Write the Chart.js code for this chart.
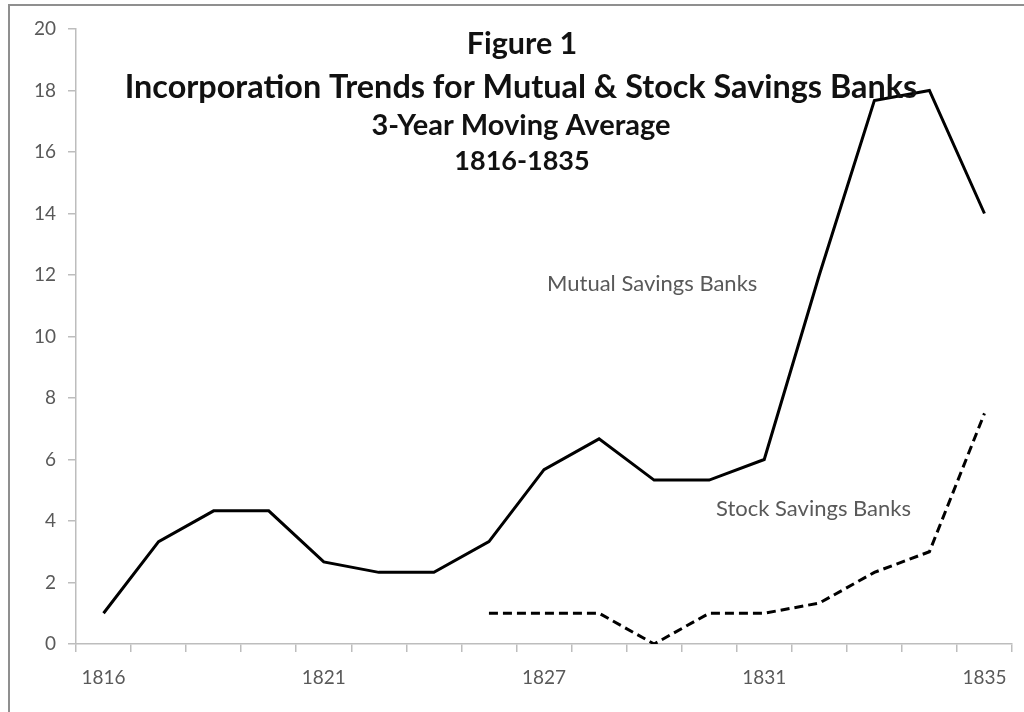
<!DOCTYPE html>
<html>
<head>
<meta charset="utf-8">
<script src="https://cdn.jsdelivr.net/npm/chart.js@4"></script>
<style>
html,body{margin:0;padding:0;background:#fff;}
#wrap{width:1024px;height:712px;position:relative;}
</style>
</head>
<body>
<div id="wrap"><canvas id="c" width="1024" height="712"></canvas></div>
<script>
const categories = ["1816","","","","1821","","","","1827","","","","1831","","","","1835"];
const mutualValues = [1, 3.33, 4.33, 4.33, 2.67, 2.33, 2.33, 3.33, 5.67, 6.67, 5.33, 5.33, 6, 12, 17.67, 18, 14];
const stockValues = [null, null, null, null, null, null, null, 1, 1, 1, 0, 1, 1, 1.33, 2.33, 3, 7.5];
const yTicks = [0, 2, 4, 6, 8, 10, 12, 14, 16, 18, 20];
const titleLines = ["Figure 1", "Incorporation Trends for Mutual & Stock Savings Banks", "3-Year Moving Average", "1816-1835"];
const seriesNames = ["Mutual Savings Banks", "Stock Savings Banks"];

const FONT = "Lato, 'Open Sans', sans-serif";
const AXIS_GREY = "#bdbdbd";
const TEXT_GREY = "#595959";

const decor = {
  id: "decor",
  beforeDraw(chart) {
    const ctx = chart.ctx;
    ctx.save();
    ctx.fillStyle = "#fff";
    ctx.fillRect(0, 0, chart.width, chart.height);
    ctx.strokeStyle = "#8f8f8f";
    ctx.lineWidth = 2;
    ctx.beginPath();
    ctx.moveTo(9, chart.height);
    ctx.lineTo(9, 5);
    ctx.lineTo(chart.width, 5);
    ctx.stroke();
    ctx.restore();
  },
  afterDraw(chart) {
    const ctx = chart.ctx;
    ctx.save();
    ctx.fillStyle = "#111";
    ctx.textAlign = "center";
    ctx.textBaseline = "alphabetic";
    const specs = [
      {x: 522, y: 54, size: 30.5},
      {x: 521, y: 98, size: 32.4},
      {x: 521, y: 135, size: 29},
      {x: 522, y: 170, size: 27}
    ];
    titleLines.forEach((t, i) => {
      ctx.font = "bold " + specs[i].size + "px " + FONT;
      ctx.fillText(t, specs[i].x, specs[i].y);
    });
    ctx.fillStyle = TEXT_GREY;
    ctx.textAlign = "left";
    ctx.font = "22px " + FONT;
    ctx.fillText(seriesNames[0], 547, 291);
    ctx.fillText(seriesNames[1], 716, 516);
    ctx.restore();
  }
};

new Chart(document.getElementById("c"), {
  type: "line",
  data: {
    labels: categories,
    datasets: [
      {
        label: seriesNames[0],
        data: mutualValues,
        borderColor: "#000",
        borderWidth: 3,
        pointRadius: 0,
        tension: 0,
        fill: false
      },
      {
        label: seriesNames[1],
        data: stockValues,
        borderColor: "#000",
        borderWidth: 3,
        borderDash: [9, 5],
        pointRadius: 0,
        tension: 0,
        fill: false,
        spanGaps: false
      }
    ]
  },
  options: {
    responsive: false,
    animation: false,
    devicePixelRatio: 1,
    layout: {padding: {left: 0, top: 29, right: 12, bottom: 0}},
    plugins: {
      legend: {display: false},
      title: {display: false},
      tooltip: {enabled: false}
    },
    scales: {
      x: {
        type: "category",
        offset: true,
        grid: {
          offset: true,
          display: true,
          drawOnChartArea: false,
          drawTicks: true,
          tickLength: 8,
          color: AXIS_GREY,
          lineWidth: 1.5
        },
        border: {display: true, color: AXIS_GREY, width: 1.5},
        ticks: {
          autoSkip: false,
          maxRotation: 0,
          color: TEXT_GREY,
          font: {family: FONT, size: 19},
          padding: 14
        },
        afterFit(scale) { scale.height = 68; }
      },
      y: {
        min: 0,
        max: 20,
        afterBuildTicks(scale) { scale.ticks = yTicks.map(v => ({value: v})); },
        grid: {
          display: true,
          drawOnChartArea: false,
          drawTicks: true,
          tickLength: 8,
          color: AXIS_GREY,
          lineWidth: 1.5
        },
        border: {display: true, color: AXIS_GREY, width: 1.5},
        ticks: {
          color: TEXT_GREY,
          font: {family: FONT, size: 19},
          padding: 12
        },
        afterFit(scale) { scale.width = 76; }
      }
    }
  },
  plugins: [decor]
});
</script>
</body>
</html>
